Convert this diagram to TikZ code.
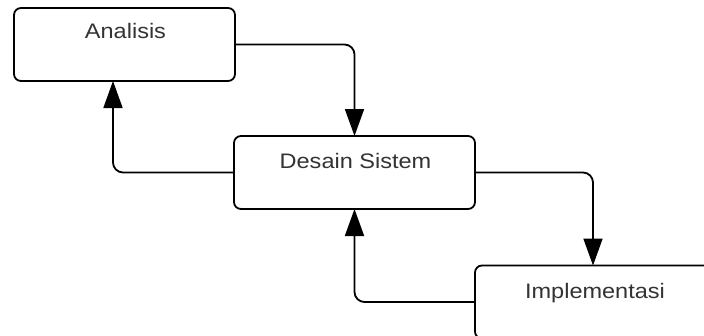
\documentclass[tikz,border=0pt]{standalone}
\usepackage{fontspec}
\setmainfont{Liberation Sans}
\usetikzlibrary{arrows.meta}
\definecolor{txtgray}{HTML}{333333}
\begin{document}
\begin{tikzpicture}[x=1pt,y=-1pt,
  box/.style={draw=black, line width=1.8pt, rounded corners=7pt, fill=white,
    minimum width=221pt, minimum height=73pt, inner sep=0pt, outer sep=0pt},
  boxw/.style={box, minimum width=241pt},
  txt/.style={anchor=base, text=txtgray, font=\fontsize{21}{25}\selectfont, inner sep=0pt},
  conn/.style={draw=black, line width=1.8pt, rounded corners=10pt,
    -{Triangle[width=19pt,length=27pt]}}]
\useasboundingbox (0,0) rectangle (704,335);
\clip (0,0) rectangle (704,335);
\fill[white] (0,0) rectangle (704,335);
\node[box]  (a) at (124.5,44.5) {};
\node[boxw] (d) at (354.5,172.5) {};
\node[boxw] (i) at (595.5,302) {};
\node[txt] (ta) at (125.5,38) {\scalebox{1.12}[1]{Analisis}};
\node[txt] (td) at (355.5,168) {\scalebox{1.12}[1]{Desain Sistem}};
\node[txt] (ti) at (595,298) {\scalebox{1.12}[1]{Implementasi}};
\draw[conn] (a.east) -| (d.north);
\draw[conn] (d.west) -| ([xshift=-11.5pt]a.south);
\draw[conn] (d.east) -| ([xshift=-2.5pt]i.north);
\draw[conn] (i.west) -| (d.south);
\end{tikzpicture}
\end{document}
